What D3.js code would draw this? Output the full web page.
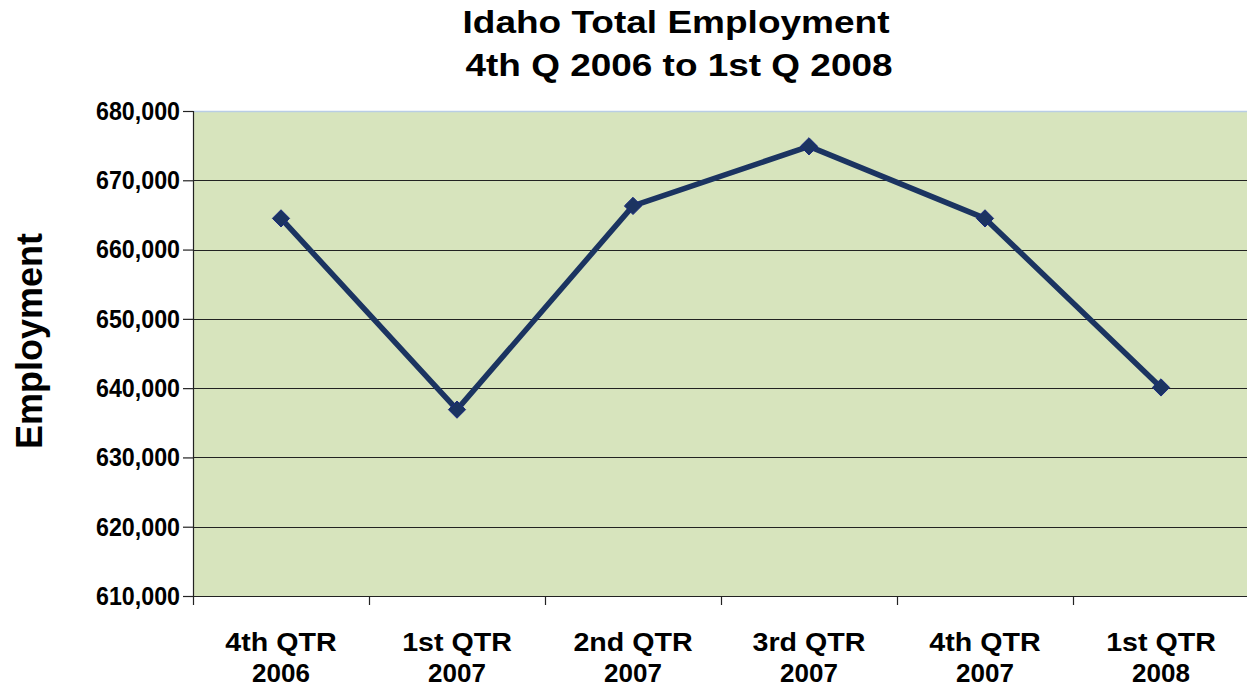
<!DOCTYPE html>
<html>
<head>
<meta charset="utf-8">
<script src="https://cdn.jsdelivr.net/npm/d3@7"></script>
<style>
  body { margin: 0; background: #fff; }
  svg { display: block; font-family: "Liberation Sans", Arial, sans-serif; }
</style>
</head>
<body>
<div id="chart"></div>
<script>
// data
var quarters = ["4th QTR|2006", "1st QTR|2007", "2nd QTR|2007", "3rd QTR|2007", "4th QTR|2007", "1st QTR|2008"];
var employment = [664500, 636900, 666300, 674900, 664500, 640100];
var yTicks = [610000, 620000, 630000, 640000, 650000, 660000, 670000, 680000];
var titleLines = ["Idaho Total Employment", "4th Q 2006 to 1st Q 2008"];

var svgWidth = 1247;
var svgHeight = 688;

var margin = { top: 111, right: -2, bottom: 92, left: 193 };
var width = svgWidth - margin.left - margin.right;
var height = svgHeight - margin.top - margin.bottom;

var svg = d3.select("#chart")
  .append("svg")
  .attr("width", svgWidth)
  .attr("height", svgHeight);

// title, two lines
svg.selectAll(".title")
  .data(titleLines)
  .enter()
  .append("text")
  .attr("class", "title")
  .attr("x", (d, i) => i === 0 ? 676 : 679)
  .attr("y", (d, i) => i === 0 ? 33 : 76)
  .attr("text-anchor", "middle")
  .attr("font-size", "32px")
  .attr("font-weight", "bold")
  .attr("fill", "#000")
  .attr("textLength", 427)
  .attr("lengthAdjust", "spacingAndGlyphs")
  .text(d => d);

var chartGroup = svg.append("g")
  .attr("transform", `translate(${margin.left}, ${margin.top})`);

// scales
var xScale = d3.scaleBand()
  .domain(quarters)
  .range([0, width]);

var yScale = d3.scaleLinear()
  .domain([610000, 680000])
  .range([height, 0]);

// plot background
chartGroup.append("rect")
  .attr("x", 0)
  .attr("y", 0)
  .attr("width", width)
  .attr("height", height)
  .attr("fill", "#d7e4bd");

// top border
chartGroup.append("line")
  .attr("x1", 0).attr("x2", width)
  .attr("y1", 0.5).attr("y2", 0.5)
  .attr("stroke", "#b9cde5")
  .attr("stroke-width", 1.5);

// gridlines
chartGroup.append("g")
  .selectAll("line")
  .data(yTicks.filter(d => d > 610000 && d < 680000))
  .enter()
  .append("line")
  .attr("x1", 0)
  .attr("x2", width)
  .attr("y1", d => Math.round(yScale(d)) + 0.5)
  .attr("y2", d => Math.round(yScale(d)) + 0.5)
  .attr("stroke", "#222")
  .attr("stroke-width", 1.2);

// y axis
var leftAxis = d3.axisLeft(yScale)
  .tickValues(yTicks)
  .tickSize(10)
  .tickPadding(3)
  .tickFormat(d3.format(","));

var yAxis = chartGroup.append("g").call(leftAxis);
yAxis.select(".domain").attr("stroke", "#222").attr("stroke-width", 1.2);
yAxis.selectAll(".tick line").attr("stroke", "#222").attr("stroke-width", 1.2);
yAxis.selectAll("text")
  .attr("font-size", "26px")
  .attr("font-weight", "bold")
  .attr("fill", "#000")
  .attr("font-family", "Liberation Sans, Arial, sans-serif")
  .attr("textLength", 84)
  .attr("lengthAdjust", "spacingAndGlyphs");

// x axis
var bottomAxis = d3.axisBottom(xScale)
  .tickSize(0)
  .tickFormat("");

var xAxis = chartGroup.append("g")
  .attr("transform", `translate(0, ${height})`)
  .call(bottomAxis);
xAxis.select(".domain").attr("stroke", "#222").attr("stroke-width", 1.2);

// category tick marks on band edges
chartGroup.append("g")
  .selectAll("line")
  .data(quarters)
  .enter()
  .append("line")
  .attr("x1", d => Math.round(xScale(d)) + 0.5)
  .attr("x2", d => Math.round(xScale(d)) + 0.5)
  .attr("y1", height)
  .attr("y2", height + 9)
  .attr("stroke", "#222")
  .attr("stroke-width", 1.2);

// category labels (two lines)
var catGroup = chartGroup.append("g");

catGroup.selectAll(".cat1")
  .data(quarters)
  .enter()
  .append("text")
  .attr("class", "cat1")
  .attr("x", d => xScale(d) + xScale.bandwidth() / 2)
  .attr("y", height + 55)
  .attr("text-anchor", "middle")
  .attr("font-size", "26px")
  .attr("font-weight", "bold")
  .attr("fill", "#000")
  .text(d => d.split("|")[0])
  .each(function() {
    // the reference's first line is a little wider than the font gives
    var w = this.getComputedTextLength();
    d3.select(this).attr("textLength", w * 1.1).attr("lengthAdjust", "spacingAndGlyphs");
  });

catGroup.selectAll(".cat2")
  .data(quarters)
  .enter()
  .append("text")
  .attr("class", "cat2")
  .attr("x", d => xScale(d) + xScale.bandwidth() / 2)
  .attr("y", height + 86)
  .attr("text-anchor", "middle")
  .attr("font-size", "26px")
  .attr("font-weight", "bold")
  .attr("fill", "#000")
  .text(d => d.split("|")[1]);

// y axis title
svg.append("text")
  .attr("transform", "rotate(-90)")
  .attr("x", -341)
  .attr("y", 42)
  .attr("text-anchor", "middle")
  .attr("font-size", "36px")
  .attr("font-weight", "bold")
  .attr("fill", "#000")
  .text("Employment");

// line
var line = d3.line()
  .x((d, i) => xScale(quarters[i]) + xScale.bandwidth() / 2)
  .y(d => yScale(d));

chartGroup.append("path")
  .datum(employment)
  .attr("d", line)
  .attr("fill", "none")
  .attr("stroke", "#1b3461")
  .attr("stroke-width", 5.5)
  .attr("stroke-linejoin", "round");

// diamond markers
chartGroup.append("g")
  .selectAll("path")
  .data(employment)
  .enter()
  .append("path")
  .attr("d", d3.symbol().type(d3.symbolDiamond2).size(190))
  .attr("transform", (d, i) => `translate(${xScale(quarters[i]) + xScale.bandwidth() / 2}, ${yScale(d)})`)
  .attr("fill", "#1b3461")
  .attr("stroke", "#1a2a80")
  .attr("stroke-width", 1);
</script>
</body>
</html>
